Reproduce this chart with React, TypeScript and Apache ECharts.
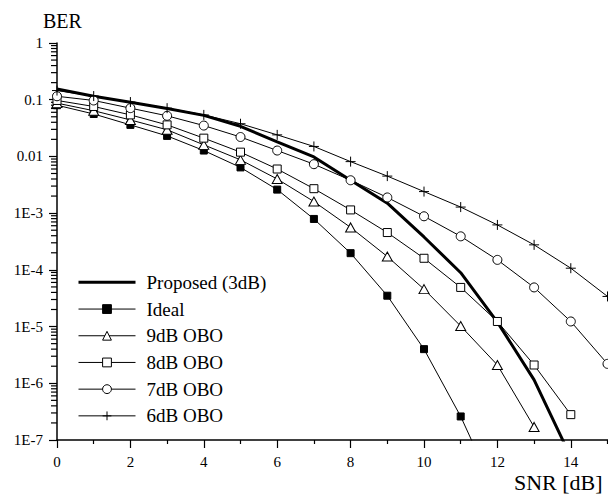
import React, { useEffect, useRef } from "react";
import * as echarts from "echarts";

// SNR values (dB)
const snr = [0, 1, 2, 3, 4, 5, 6, 7, 8, 9, 10, 11, 12, 13, 14, 15];

// BER curves
const proposed = [0.154, 0.115, 0.09, 0.07, 0.053, 0.034, 0.018, 0.0098, 0.0038, 0.0015, 0.00038, 0.000089, 0.000012, 0.00000115, 0.00000005];
const ideal = [0.08, 0.056, 0.036, 0.023, 0.0127, 0.0064, 0.0026, 0.00079, 0.000197, 0.000035, 0.000004, 0.00000026, 0.00000001];
const obo9 = [0.087, 0.064, 0.044, 0.0295, 0.016, 0.0087, 0.004, 0.0016, 0.00056, 0.000172, 0.0000457, 0.0000102, 0.0000021, 0.00000017];
const obo8 = [0.097, 0.076, 0.054, 0.036, 0.021, 0.0119, 0.006, 0.0027, 0.00114, 0.000455, 0.00016, 0.000049, 0.0000123, 0.0000021, 0.00000028];
const obo7 = [0.115, 0.097, 0.071, 0.052, 0.035, 0.022, 0.0127, 0.0073, 0.0038, 0.00189, 0.00088, 0.00039, 0.00015, 0.000049, 0.0000123, 0.0000022];
const obo6 = [0.145, 0.116, 0.091, 0.071, 0.054, 0.0377, 0.024, 0.015, 0.0081, 0.0045, 0.0024, 0.00128, 0.00062, 0.000276, 0.000107, 0.000034];

const seriesNames = ["Proposed (3dB)", "Ideal", "9dB OBO", "8dB OBO", "7dB OBO", "6dB OBO"];

// axis decoration
const yDecadeExponents = [0, -1, -2, -3, -4, -5, -6, -7];
const minorMultipliers = [2, 3, 4, 5, 6, 7, 8, 9];

const FONT = "'Liberation Serif', 'Times New Roman', serif";

function pairs(vals: number[]) {
  return vals.map((v, i) => [snr[i], v]);
}

function yLabel(v: number): string {
  const e = Math.round(Math.log10(v));
  if (e === 0) return "1";
  if (e === -1) return "0.1";
  if (e === -2) return "0.01";
  return "1E" + e;
}

export default function App() {
  const ref = useRef<HTMLDivElement>(null);

  useEffect(() => {
    if (!ref.current) return;
    const chart = echarts.init(ref.current, undefined, { renderer: "svg" });

    const minorValues: number[] = [];
    yDecadeExponents.forEach((e) => {
      if (e >= 0) return;
      minorMultipliers.forEach((k) => minorValues.push(k * Math.pow(10, e)));
    });

    const baseLine = {
      type: "line" as const,
      clip: true,
      emphasis: { disabled: true },
      silent: true,
      lineStyle: { color: "#000", width: 1 },
      color: "#000",
    };

    const option: any = {
      animation: false,
      textStyle: { fontFamily: FONT },
      grid: { left: 57, top: 43, width: 587.2, height: 397 },
      xAxis: {
        type: "value",
        min: 0,
        max: 16,
        interval: 2,
        axisLine: { show: true, onZero: false, lineStyle: { color: "#000", width: 1.5 } },
        axisTick: { show: true, length: 8, lineStyle: { color: "#000", width: 1.2 } },
        minorTick: { show: true, splitNumber: 2, length: 4, lineStyle: { color: "#000", width: 1.2 } },
        splitLine: { show: false },
        minorSplitLine: { show: false },
        axisLabel: {
          margin: 14,
          color: "#000",
          fontFamily: FONT,
          fontSize: 15,
          formatter: (v: number) => (v > 14 ? "" : String(v)),
        },
      },
      yAxis: {
        type: "log",
        logBase: 10,
        min: 1e-7,
        max: 1,
        splitNumber: 7,
        axisLine: { show: true, lineStyle: { color: "#000", width: 1.5 } },
        axisTick: { show: true, length: 8, lineStyle: { color: "#000", width: 1.2 } },
        splitLine: { show: false },
        axisLabel: {
          margin: 14,
          color: "#000",
          fontFamily: FONT,
          fontSize: 15,
          formatter: (v: number) => yLabel(v),
        },
      },
      legend: {
        orient: "vertical",
        left: 78,
        top: 269,
        padding: 0,
        itemGap: 0,
        itemWidth: 57,
        itemHeight: 11,
        selectedMode: false,
        itemStyle: { borderWidth: 1 },
        lineStyle: { width: 1 },
        textStyle: {
          fontFamily: FONT,
          fontSize: 19,
          color: "#000",
          lineHeight: 26.7,
          padding: [0, 0, 0, 6],
        },
        data: [
          { name: seriesNames[0], icon: "path://M0,0H57V3H0Z" },
          seriesNames[1],
          seriesNames[2],
          seriesNames[3],
          seriesNames[4],
          seriesNames[5],
        ],
      },
      series: [
        {
          ...baseLine,
          name: seriesNames[0],
          data: pairs(proposed),
          symbol: "none",
          lineStyle: { color: "#000", width: 3 },
          z: 2,
        },
        {
          ...baseLine,
          name: seriesNames[1],
          data: pairs(ideal),
          symbol: "rect",
          symbolSize: 7,
          itemStyle: { color: "#000", borderColor: "#000", borderWidth: 1 },
          z: 3,
        },
        {
          ...baseLine,
          name: seriesNames[2],
          data: pairs(obo9),
          symbol: "triangle",
          symbolSize: [10, 9],
          itemStyle: { color: "#fff", borderColor: "#000", borderWidth: 1 },
          z: 3,
        },
        {
          ...baseLine,
          name: seriesNames[3],
          data: pairs(obo8),
          symbol: "rect",
          symbolSize: 8,
          itemStyle: { color: "#fff", borderColor: "#000", borderWidth: 1 },
          z: 3,
        },
        {
          ...baseLine,
          name: seriesNames[4],
          data: pairs(obo7),
          symbol: "circle",
          symbolSize: 9,
          itemStyle: { color: "#fff", borderColor: "#000", borderWidth: 1 },
          z: 3,
        },
        {
          ...baseLine,
          name: seriesNames[5],
          data: pairs(obo6),
          symbol: "path://M0,5L10,5M5,0L5,10",
          symbolSize: 10,
          itemStyle: { color: "rgba(0,0,0,0)", borderColor: "#000", borderWidth: 1 },
          z: 3,
        },
      ],
    };

    chart.setOption(option);

    // log-spaced minor ticks on the y axis, placed through the axis scale
    const graphics: any[] = [
      {
        type: "text",
        x: 43,
        y: 21,
        style: { text: "BER", fontFamily: FONT, fontSize: 20, fill: "#000", verticalAlign: "middle" },
      },
      {
        type: "text",
        x: 514,
        y: 482,
        style: { text: "SNR [dB]", fontFamily: FONT, fontSize: 22, fill: "#000", verticalAlign: "middle" },
      },
    ];
    minorValues.forEach((v) => {
      const p = chart.convertToPixel({ gridIndex: 0 }, [0, v]) as number[];
      if (!p || p[1] == null || !isFinite(p[1])) return;
      graphics.push({
        type: "line",
        shape: { x1: p[0] - 6, y1: p[1], x2: p[0], y2: p[1] },
        style: { stroke: "#000", lineWidth: 1.2 },
      });
    });
    chart.setOption({ graphic: graphics });

    return () => {
      chart.dispose();
    };
  }, []);

  return (
    <div
      ref={ref}
      style={{ position: "fixed", left: 0, top: 0, width: 700, height: 496, background: "#fff" }}
    />
  );
}
